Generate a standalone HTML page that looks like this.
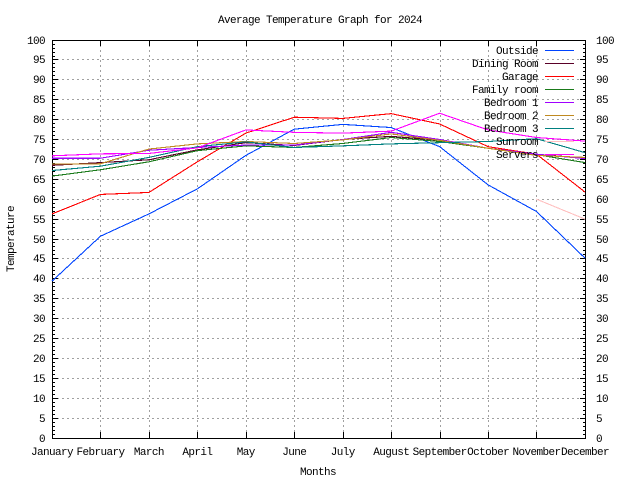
<!DOCTYPE html>
<html><head><meta charset="utf-8"><style>
html,body{margin:0;padding:0;background:#fff;}
svg{display:block;}
text{font-family:"Liberation Mono",monospace;font-size:11px;letter-spacing:-0.6px;fill:#000;}
</style></head><body>
<svg width="640" height="480" viewBox="0 0 640 480" xmlns="http://www.w3.org/2000/svg">
<rect width="640" height="480" fill="#fff"/>
<!-- grid -->
<g stroke="#a0a0a0" stroke-width="1" stroke-dasharray="2,3" fill="none" shape-rendering="crispEdges">
<path d="M52,418.5H585M52,398.5H585M52,378.5H585M52,358.5H585M52,338.5H585M52,318.5H585M52,298.5H585M52,278.5H585M52,258.5H585M52,239.5H585M52,219.5H585M52,199.5H585M52,179.5H585M52,159.5H585M52,139.5H585M52,119.5H585M52,99.5H585M52,79.5H585M52,59.5H585"/>
<path d="M100.5,40V438M149.5,40V438M197.5,40V438M246.5,40V438M294.5,40V438M343.5,40V438M391.5,40V438M440.5,40V438M488.5,40V438M536.5,40V438"/>
</g>
<!-- ticks -->
<g stroke="#000" stroke-width="1" fill="none" shape-rendering="crispEdges">
<path id="minor" d="M52,434.5H55M52,430.5H55M52,426.5H55M52,422.5H55M52,414.5H55M52,410.5H55M52,406.5H55M52,402.5H55M52,394.5H55M52,390.5H55M52,386.5H55M52,382.5H55M52,374.5H55M52,370.5H55M52,366.5H55M52,362.5H55M52,354.5H55M52,350.5H55M52,346.5H55M52,342.5H55M52,334.5H55M52,330.5H55M52,326.5H55M52,322.5H55M52,314.5H55M52,310.5H55M52,306.5H55M52,302.5H55M52,294.5H55M52,290.5H55M52,286.5H55M52,282.5H55M52,274.5H55M52,270.5H55M52,266.5H55M52,262.5H55M52,254.5H55M52,250.5H55M52,246.5H55M52,242.5H55M52,235.5H55M52,231.5H55M52,227.5H55M52,223.5H55M52,215.5H55M52,211.5H55M52,207.5H55M52,203.5H55M52,195.5H55M52,191.5H55M52,187.5H55M52,183.5H55M52,175.5H55M52,171.5H55M52,167.5H55M52,163.5H55M52,155.5H55M52,151.5H55M52,147.5H55M52,143.5H55M52,135.5H55M52,131.5H55M52,127.5H55M52,123.5H55M52,115.5H55M52,111.5H55M52,107.5H55M52,103.5H55M52,95.5H55M52,91.5H55M52,87.5H55M52,83.5H55M52,75.5H55M52,71.5H55M52,67.5H55M52,63.5H55M52,56.5H55M52,52.5H55M52,48.5H55M52,44.5H55"/>
<use href="#minor" transform="translate(638,0) scale(-1,1)"/>
<path id="major" d="M52,438.5H58M52,418.5H58M52,398.5H58M52,378.5H58M52,358.5H58M52,338.5H58M52,318.5H58M52,298.5H58M52,278.5H58M52,258.5H58M52,239.5H58M52,219.5H58M52,199.5H58M52,179.5H58M52,159.5H58M52,139.5H58M52,119.5H58M52,99.5H58M52,79.5H58M52,59.5H58M52,40.5H58"/>
<use href="#major" transform="translate(638,0) scale(-1,1)"/>
<path d="M100.5,438V432M149.5,438V432M197.5,438V432M246.5,438V432M294.5,438V432M343.5,438V432M391.5,438V432M440.5,438V432M488.5,438V432M536.5,438V432"/>
<path d="M100.5,40V46M149.5,40V46M197.5,40V46M246.5,40V46M294.5,40V46M343.5,40V46M391.5,40V46M440.5,40V46M488.5,40V46M536.5,40V46"/>
<rect x="52.5" y="40.5" width="533" height="398"/>
</g>
<!-- y labels left -->
<g text-anchor="end">
<text x="45" y="442">0</text><text x="45" y="422">5</text><text x="45" y="402">10</text><text x="45" y="382">15</text><text x="45" y="362">20</text><text x="45" y="342">25</text><text x="45" y="322">30</text><text x="45" y="302">35</text><text x="45" y="282">40</text><text x="45" y="262">45</text><text x="45" y="243">50</text><text x="45" y="223">55</text><text x="45" y="203">60</text><text x="45" y="183">65</text><text x="45" y="163">70</text><text x="45" y="143">75</text><text x="45" y="123">80</text><text x="45" y="103">85</text><text x="45" y="83">90</text><text x="45" y="63">95</text><text x="45" y="44">100</text>
</g>
<g>
<text x="596" y="442">0</text><text x="596" y="422">5</text><text x="596" y="402">10</text><text x="596" y="382">15</text><text x="596" y="362">20</text><text x="596" y="342">25</text><text x="596" y="322">30</text><text x="596" y="302">35</text><text x="596" y="282">40</text><text x="596" y="262">45</text><text x="596" y="243">50</text><text x="596" y="223">55</text><text x="596" y="203">60</text><text x="596" y="183">65</text><text x="596" y="163">70</text><text x="596" y="143">75</text><text x="596" y="123">80</text><text x="596" y="103">85</text><text x="596" y="83">90</text><text x="596" y="63">95</text><text x="596" y="44">100</text>
</g>
<!-- x labels -->
<g text-anchor="middle">
<text x="52" y="455">January</text><text x="100.5" y="455">February</text><text x="148.9" y="455">March</text><text x="197.4" y="455">April</text><text x="245.8" y="455">May</text><text x="294.3" y="455">June</text><text x="342.7" y="455">July</text><text x="391.2" y="455">August</text><text x="439.6" y="455">September</text><text x="488.1" y="455">October</text><text x="536.5" y="455">November</text><text x="585" y="455">December</text>
<text x="318" y="475">Months</text>
<text x="320" y="23">Average Temperature Graph for 2024</text>
<text transform="translate(14,239) rotate(-90)">Temperature</text>
</g>
<!-- series -->
<g transform="translate(52,438) scale(48.4545,-3.98)" fill="none" stroke-width="1.1" shape-rendering="crispEdges">
<polyline vector-effect="non-scaling-stroke" stroke="#0044ff" points="0,39.4 1,50.7 2,56.3 3,62.6 4,71 5,77.6 6,78.8 7,78 8,73.2 9,63.6 10,56.9 11,45.2"/>
<polyline vector-effect="non-scaling-stroke" stroke="#5a0028" points="0,68.5 1,69.2 2,69.9 3,72.4 4,74.2 5,73.5 6,75 7,75.8 8,74.8 9,72.8 10,71.3 11,70.3"/>
<polyline vector-effect="non-scaling-stroke" stroke="#ff0000" points="0,56.3 1,61.2 2,61.7 3,69.4 4,76.6 5,80.6 6,80.3 7,81.5 8,78.9 9,73.2 10,71.3 11,61.8"/>
<polyline vector-effect="non-scaling-stroke" stroke="#1a7a1a" points="0,65.8 1,67.4 2,69.4 3,72.2 4,73.4 5,73 6,74 7,75.5 8,74.5 9,72.8 10,71.2 11,69.2"/>
<polyline vector-effect="non-scaling-stroke" stroke="#a000ff" points="0,70.3 1,70.3 2,72.3 3,73 4,73.6 5,73.6 6,75 7,76.8 8,75 9,72.8 10,71.3 11,70.2"/>
<polyline vector-effect="non-scaling-stroke" stroke="#c08a20" points="0,68.8 1,68.9 2,72.6 3,73.9 4,74.5 5,74 6,74.9 7,76.4 8,74.8 9,72.8 10,71 11,70.5"/>
<polyline vector-effect="non-scaling-stroke" stroke="#008080" points="0,67.2 1,68.3 2,70.5 3,73.2 4,74.4 5,73 6,73.4 7,73.9 8,74.2 9,74.5 10,75.2 11,71.7"/>
<polyline vector-effect="non-scaling-stroke" stroke="#ffc0c0" points="10,60 11,55"/>
<polyline vector-effect="non-scaling-stroke" stroke="#ff00ff" points="0,70.9 1,71.4 2,71.5 3,72.9 4,77.4 5,76.8 6,76.6 7,77.1 8,81.6 9,77.4 10,75.5 11,74.6"/>
</g>
<!-- legend -->
<g text-anchor="end">
<text x="538" y="54">Outside</text><text x="538" y="67">Dining Room</text><text x="538" y="80">Garage</text><text x="538" y="93">Family room</text><text x="538" y="106">Bedroom 1</text><text x="538" y="119">Bedroom 2</text><text x="538" y="132">Bedroom 3</text><text x="538" y="145">Sunroom</text><text x="538" y="158">Servers</text>
</g>
<g stroke-width="1" shape-rendering="crispEdges">
<path d="M545,50.5H574" stroke="#0044ff"/>
<path d="M545,63.5H574" stroke="#5a0028"/>
<path d="M545,76.5H574" stroke="#ff0000"/>
<path d="M545,89.5H574" stroke="#1a7a1a"/>
<path d="M545,102.5H574" stroke="#a000ff"/>
<path d="M545,115.5H574" stroke="#c08a20"/>
<path d="M545,128.5H574" stroke="#008080"/>
<path d="M545,141.5H574" stroke="#ffc0c0"/>
<path d="M545,154.5H574" stroke="#ff00ff"/>
</g>
</svg>
</body></html>
